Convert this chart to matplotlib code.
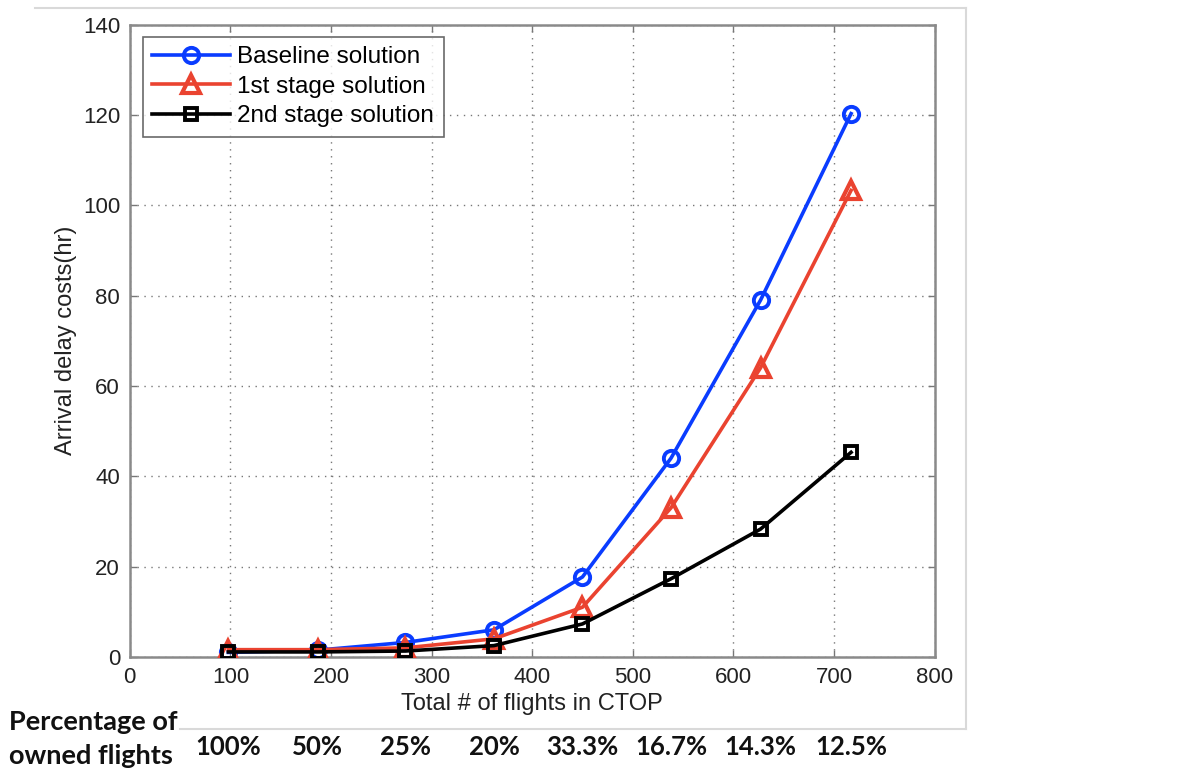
import numpy as np
import matplotlib
matplotlib.use('Agg')
import matplotlib.pyplot as plt
from matplotlib.lines import Line2D

# dati
flights = [98, 187, 274, 362, 450, 538, 627, 717]
baseline = [1.0, 1.5, 3.2, 6.0, 17.7, 44.0, 79.0, 120.3]
stage1 = [1.6, 1.6, 2.0, 4.0, 11.0, 33.0, 64.0, 103.3]
stage2 = [1.1, 1.1, 1.3, 2.5, 7.3, 17.3, 28.3, 45.3]
owned = ['100%', '50%', '25%', '20%', '33.3%', '16.7%', '14.3%', '12.5%']

plt.rcParams['font.family'] = ['Liberation Sans', 'DejaVu Sans']

fig = plt.figure(figsize=(11.8, 7.71), dpi=100)
ax = fig.add_axes([0.110, 0.148, 0.682, 0.820])

ax.plot(flights, baseline, color='#0a3cff', lw=2.6, marker='o', ms=11,
        mfc='none', mec='#0a3cff', mew=2.8, label='Baseline solution', zorder=3)
ax.plot(flights, stage1, color='#ea4330', lw=2.6, marker='^', ms=13,
        mfc='none', mec='#ea4330', mew=3.0, label='1st stage solution', zorder=3)
ax.plot(flights, stage2, color='black', lw=2.6, marker='s', ms=9,
        mfc='none', mec='black', mew=2.8, label='2nd stage solution', zorder=4)

ax.set_xlim(0, 800)
ax.set_ylim(0, 140)
ax.set_xticks(np.arange(0, 801, 100))
ax.set_yticks(np.arange(0, 141, 20))
ax.grid(True, ls=(0, (1, 4)), color='#777777', lw=1.0)
ax.tick_params(direction='in', top=True, right=True, length=5, width=1,
               color='#777777', labelsize=16, labelcolor='#222222', pad=7)
for s in ax.spines.values():
    s.set_color('#8a8a8a')
    s.set_linewidth(1.8)

ax.set_xlabel('Total # of flights in CTOP', fontsize=17, color='#222222', labelpad=4)
ax.set_ylabel('Arrival delay costs(hr)', fontsize=17, color='#222222', labelpad=4)

leg = ax.legend(loc='upper left', fontsize=17.5, handlelength=3.2, borderpad=0.4,
                labelspacing=0.3, handletextpad=0.3, fancybox=False,
                bbox_to_anchor=(0.016, 0.981), borderaxespad=0)
leg.get_frame().set_edgecolor('#444444')
leg.get_frame().set_linewidth(1.2)

# riga delle percentuali sotto l'asse x
for x, lab in zip(flights, owned):
    ax.text(x, -0.142, lab, transform=ax.get_xaxis_transform(), ha='center',
            va='center', fontsize=18.5, fontweight='bold', family='Lato', color='#111111')
fig.text(0.008, 0.063, 'Percentage of', fontsize=19.5, fontweight='bold',
         family='Lato', ha='left', va='center', color='#111111')
fig.text(0.008, 0.019, 'owned flights', fontsize=19.5, fontweight='bold',
         family='Lato', ha='left', va='center', color='#111111')

# cornice grigia chiara della figura originale
fx0, fx1, fy0, fy1 = 35 / 1180, 966 / 1180, 1 - 729 / 771, 1 - 8 / 771
frame_col = '#d9d9d9'
fig.add_artist(Line2D([fx0, fx1], [fy1, fy1], color=frame_col, lw=1.5))
fig.add_artist(Line2D([fx1, fx1], [fy0, fy1], color=frame_col, lw=1.5))
fig.add_artist(Line2D([180 / 1180, fx1], [fy0, fy0], color=frame_col, lw=1.5))

fig.savefig('out.png', dpi=100, facecolor='white')
